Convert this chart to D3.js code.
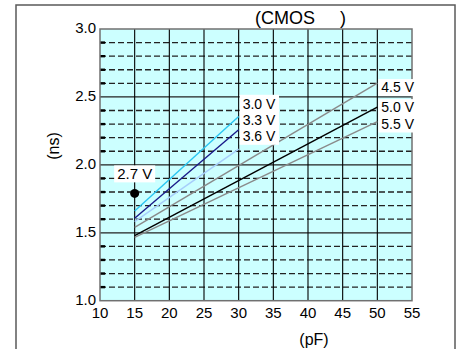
<!DOCTYPE html>
<html>
<head>
<meta charset="utf-8">
<script src="https://cdn.jsdelivr.net/npm/d3@7"></script>
<style>
  body { margin: 0; background: #fff; }
  text { font-family: "Liberation Sans", Arial, sans-serif; fill: #000; }
</style>
</head>
<body>
<script>
const width = 459;
const height = 349;

// data
const voltages = ["3.0 V", "3.3 V", "3.6 V", "4.5 V", "5.0 V", "5.5 V"];
const loadStart = [15, 15, 15, 15, 15, 15];
const loadEnd = [30, 30, 30, 50, 50, 50];
const delayStart = [1.66, 1.607, 1.582, 1.54, 1.479, 1.467];
const delayEnd = [2.356, 2.258, 2.116, 2.602, 2.425, 2.319];
const pointLabel = "2.7 V";
const pointLoad = 15;
const pointDelay = 1.79;
const xTicks = [10, 15, 20, 25, 30, 35, 40, 45, 50, 55];
const yTicks = [1.0, 1.5, 2.0, 2.5, 3.0];

// styles
const lineColors = ["#29c6f2", "#1a1a8a", "#a6cdfb", "#8a8a8a", "#000000", "#8a8a8a"];
const labelDx = [4, 4, 4, 4, 4, 4];
const labelDy = [-7.7, -5, -8.3, 9, 5, 7];

const svg = d3.select("body").append("svg")
  .attr("width", width)
  .attr("height", height);

// outer frame
svg.append("rect")
  .attr("x", 16).attr("y", 5)
  .attr("width", 439).attr("height", 360)
  .attr("fill", "#fff")
  .attr("stroke", "#5a5a5a")
  .attr("stroke-width", 1.5);

const x = d3.scaleLinear().domain([10, 55]).range([100, 412]);
const y = d3.scaleLinear().domain([1.0, 3.0]).range([300.7, 29]);

// plot background
svg.append("rect")
  .attr("x", x(10)).attr("y", y(3))
  .attr("width", x(55) - x(10)).attr("height", y(1) - y(3))
  .attr("fill", "#ccffff");

// minor dashed lines every 0.1
const minor = d3.range(11, 30).map(d => d / 10).filter(d => Math.round(d * 10) % 5 !== 0);
svg.append("g").selectAll("line").data(minor).join("line")
  .attr("x1", x(10)).attr("x2", x(55))
  .attr("y1", d => y(d)).attr("y2", d => y(d))
  .attr("stroke", "#222")
  .attr("stroke-width", 1.3)
  .attr("stroke-dasharray", "6,3");
// little ticks on the left
svg.append("g").selectAll("line").data(minor).join("line")
  .attr("x1", x(10)).attr("x2", x(10) + 5)
  .attr("y1", d => y(d)).attr("y2", d => y(d))
  .attr("stroke", "#000")
  .attr("stroke-width", 2.4);

// major horizontal lines
svg.append("g").selectAll("line").data(yTicks.slice(1, -1)).join("line")
  .attr("x1", x(10)).attr("x2", x(55))
  .attr("y1", d => y(d)).attr("y2", d => y(d))
  .attr("stroke", "#222")
  .attr("stroke-width", 1.3);

// vertical grid lines
svg.append("g").selectAll("line").data(xTicks.slice(1, -1)).join("line")
  .attr("x1", d => x(d)).attr("x2", d => x(d))
  .attr("y1", y(3)).attr("y2", y(1))
  .attr("stroke", "#000")
  .attr("stroke-width", 1.1);

// plot border
svg.append("rect")
  .attr("x", x(10)).attr("y", y(3))
  .attr("width", x(55) - x(10)).attr("height", y(1) - y(3))
  .attr("fill", "none")
  .attr("stroke", "#707070")
  .attr("stroke-width", 1.5);

// axes labels
svg.append("g").selectAll("text").data(xTicks).join("text")
  .attr("x", d => x(d)).attr("y", 318)
  .attr("text-anchor", "middle")
  .attr("font-size", 15)
  .text(d => d);

svg.append("g").selectAll("text").data(yTicks).join("text")
  .attr("x", 96).attr("y", d => y(d) - 1)
  .attr("dy", "0.35em")
  .attr("text-anchor", "end")
  .attr("font-size", 15)
  .text(d => d.toFixed(1));

svg.append("text")
  .attr("x", 314).attr("y", 345)
  .attr("text-anchor", "middle")
  .attr("font-size", 16)
  .text("(pF)");

svg.append("text")
  .attr("transform", "translate(59,146) rotate(-90)")
  .attr("text-anchor", "middle")
  .attr("font-size", 16)
  .text("(ns)");

svg.append("text")
  .attr("x", 255).attr("y", 24)
  .attr("font-size", 18)
  .style("white-space", "pre")
  .text("(CMOS     )");

// lines
const rows = voltages.map((v, i) => ({
  v, i,
  x1: loadStart[i], y1: delayStart[i],
  x2: loadEnd[i], y2: delayEnd[i]
}));

svg.append("g").selectAll("line").data(rows).join("line")
  .attr("x1", d => x(d.x1)).attr("y1", d => y(d.y1))
  .attr("x2", d => x(d.x2)).attr("y2", d => y(d.y2))
  .attr("stroke", d => lineColors[d.i])
  .attr("stroke-width", 1.4);

// labels with white boxes
const lab = svg.append("g").selectAll("g").data(rows).join("g");
const labText = lab.append("text")
  .attr("x", d => x(d.x2) + labelDx[d.i])
  .attr("y", d => y(d.y2) + labelDy[d.i])
  .attr("font-size", 14)
  .text(d => d.v);
labText.each(function (d) {
  const b = this.getBBox();
  d3.select(this.parentNode).insert("rect", "text")
    .attr("x", b.x - 3).attr("y", b.y - (d.i < 3 ? 1 : 0))
    .attr("width", b.width + 6).attr("height", b.height + (d.i < 3 ? 2 : 1))
    .attr("fill", "#fff");
});

// 2.7 V point
const pt = svg.append("g");
const ptText = pt.append("text")
  .attr("x", x(pointLoad)).attr("y", y(pointDelay) - 14)
  .attr("text-anchor", "middle")
  .attr("font-size", 15)
  .text(pointLabel);
const pb = ptText.node().getBBox();
pt.insert("rect", "text")
  .attr("x", pb.x - 3).attr("y", pb.y)
  .attr("width", pb.width + 6).attr("height", pb.height)
  .attr("fill", "#fff");
pt.append("circle")
  .attr("cx", x(pointLoad)).attr("cy", y(pointDelay))
  .attr("r", 4.5)
  .attr("fill", "#000");
</script>
</body>
</html>
